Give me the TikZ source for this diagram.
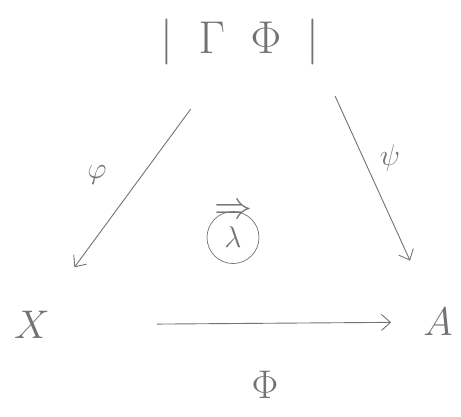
\RequirePackage{fix-cm}
\documentclass[tikz,border=0pt]{standalone}
\usepackage{amsmath,amssymb}
\usetikzlibrary{arrows.meta,positioning}
\definecolor{pencil}{gray}{0.45}

\begin{document}
\begin{tikzpicture}[
  x=1pt, y=-1pt,
  obj/.style={text=pencil, font=\fontsize{40}{44}\selectfont, inner sep=2pt},
  lbl/.style={text=pencil, font=\fontsize{30}{34}\selectfont, inner sep=2pt},
  arr/.style={-{Straight Barb[length=9pt, width=16pt]}, draw=pencil, line width=0.9pt},
]
  \useasboundingbox (0,0) rectangle (461,416);

  % objects
  \node[obj, font=\fontsize{46}{50}\selectfont] (top) at (240,42) {$|\;\;\Gamma\;\;\Phi\;\;|$};
  \node[obj] (x) at (32,325) {$X$};
  \node[obj] (a) at (438,322) {$A$};

  % morphisms
  \draw[arr, shorten <=52pt, shorten >=52pt] (top) -- (x);
  \draw[arr, shorten <=32pt, shorten >=50pt] (top.south east) -- (a);
  \draw[arr, shorten <=105pt, shorten >=30pt] (x) -- (a);

  \node[lbl] (phi) at (97,175) {$\varphi$};
  \node[lbl] (psi) at (390,158) {$\psi$};
  \node[obj] (bigphi) at (265,385) {$\Phi$};

  % 2-cell
  \node[lbl, font=\fontsize{38}{40}\selectfont] (cell) at (233,212) {$\Rightarrow$};
  \node[lbl, draw=pencil, circle, line width=0.7pt, minimum size=52pt, below=-10pt of cell] (lam) {$\lambda$};
\end{tikzpicture}
\end{document}
